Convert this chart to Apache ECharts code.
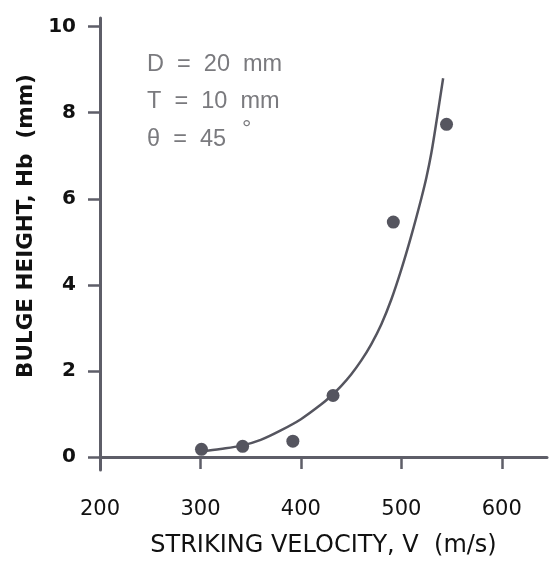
<!DOCTYPE html>
<html>
<head>
<meta charset="utf-8">
<script src="https://cdn.jsdelivr.net/npm/echarts@6/dist/echarts.min.js"></script>
<style>html,body{margin:0;padding:0;background:#fff;}#c{width:558px;height:563px;}</style>
</head>
<body>
<div id="c"></div>
<script>
// Measured data points
const velocities = [301, 342, 392, 432, 492, 545];
const heights = [0.18, 0.25, 0.37, 1.43, 5.46, 7.73];
// Fitted curve
const curveV = [300, 320, 340, 360, 380, 400, 420, 430, 440, 450, 460, 470, 480, 490, 500, 510, 520, 525, 530, 535, 541.6];
const curveH = [0.13, 0.19, 0.26, 0.4, 0.62, 0.88, 1.22, 1.42, 1.65, 1.92, 2.24, 2.62, 3.08, 3.66, 4.36, 5.15, 6.02, 6.5, 7.08, 7.8, 8.8];
// Tick labels
const xTicks = [200, 300, 400, 500, 600];
const yTicks = [0, 2, 4, 6, 8, 10];
const notes = ['D  =  20  mm', 'T  =  10  mm', 'θ  =  45'];

const axisColor = '#5e5e68';
const markColor = '#55555f';

const chart = echarts.init(document.getElementById('c'), null, {renderer: 'canvas'});
chart.setOption({
  animation: false,
  backgroundColor: '#ffffff',
  grid: {left: 100, right: 11, top: 18, bottom: 83},
  xAxis: {
    type: 'value', min: 200, max: 645,
    name: 'STRIKING VELOCITY, V  (m/s)',
    nameLocation: 'middle', nameGap: 64,
    nameTextStyle: {fontFamily: 'DejaVu Sans', fontSize: 24, color: '#111'},
    axisLine: {onZero: true, lineStyle: {color: axisColor, width: 3}},
    axisTick: {show: true, customValues: xTicks, length: 12, inside: false, lineStyle: {color: axisColor, width: 2.5}},
    axisLabel: {customValues: xTicks, margin: 29, fontFamily: 'DejaVu Sans', fontSize: 21, color: '#111'},
    splitLine: {show: false}
  },
  yAxis: {
    type: 'value', min: -0.3, max: 10.2,
    name: 'BULGE HEIGHT, Hb  (mm)',
    nameLocation: 'middle', nameGap: 60, nameRotate: 90,
    nameTextStyle: {fontFamily: 'DejaVu Sans', fontWeight: 'bold', fontSize: 21.5, color: '#111', padding: [0, 0, 0, 36]},
    axisLine: {onZero: false, lineStyle: {color: axisColor, width: 3}},
    axisTick: {show: true, customValues: yTicks, length: 12, lineStyle: {color: axisColor, width: 2.5}},
    axisLabel: {customValues: yTicks, margin: 24, fontFamily: 'DejaVu Sans', fontWeight: 'bold', fontSize: 20, color: '#111'},
    splitLine: {show: false}
  },
  series: [
    {
      type: 'line',
      data: curveV.map((v, i) => [v, curveH[i]]),
      smooth: 0.3,
      showSymbol: false,
      lineStyle: {color: markColor, width: 2.5},
      z: 2
    },
    {
      type: 'scatter',
      data: velocities.map((v, i) => [v, heights[i]]),
      symbol: 'circle',
      symbolSize: 13,
      itemStyle: {color: markColor, opacity: 1},
      z: 3
    }
  ],
  graphic: [
    {type: 'text', left: 147, top: 53, style: {text: notes[0], fontFamily: 'Liberation Sans', fontSize: 23.5, fill: '#7a7a7e'}},
    {type: 'text', left: 147, top: 90, style: {text: notes[1], fontFamily: 'Liberation Sans', fontSize: 23.5, fill: '#7a7a7e'}},
    {type: 'text', left: 147, top: 128, style: {text: notes[2], fontFamily: 'Liberation Sans', fontSize: 23.5, fill: '#7a7a7e'}},
    {type: 'text', left: 242, top: 118, style: {text: '°', fontFamily: 'Liberation Sans', fontSize: 23.5, fill: '#7a7a7e'}}
  ]
});
</script>
</body>
</html>
